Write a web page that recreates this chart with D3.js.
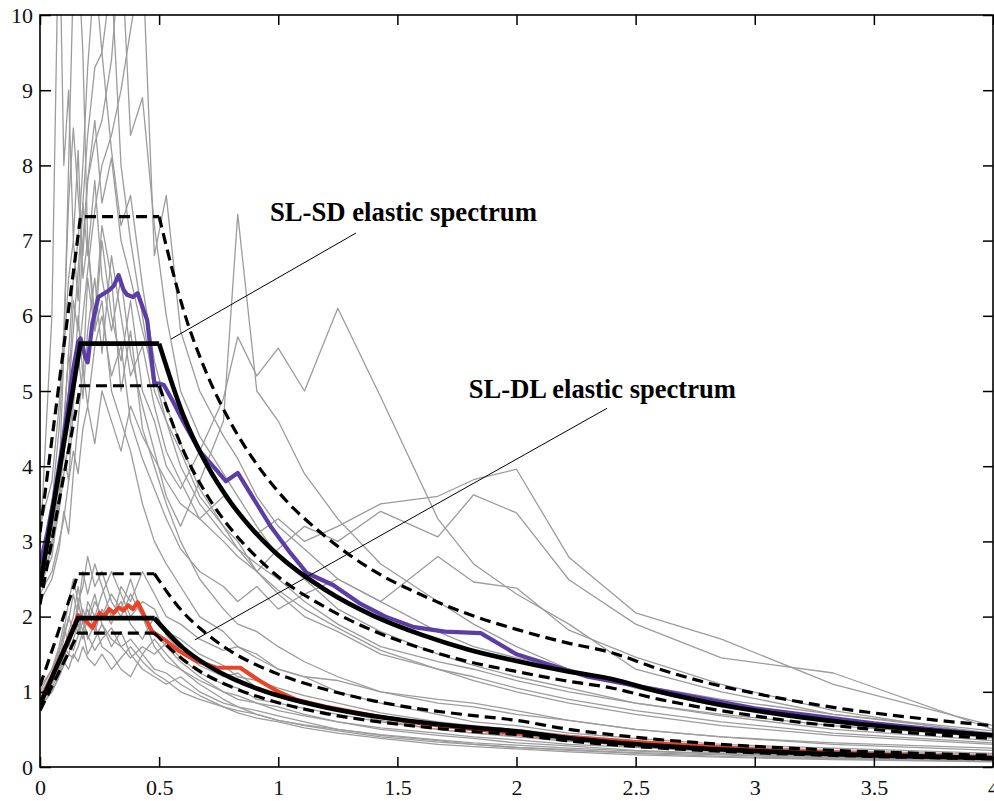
<!DOCTYPE html>
<html><head><meta charset="utf-8">
<script src="https://cdn.jsdelivr.net/npm/d3@7"></script>
<style>body{margin:0;background:#fff}</style>
</head><body><svg id="c" width="994" height="801"></svg>
<script>
// ---------- DATA ----------
const xTicks = [0,0.5,1,1.5,2,2.5,3,3.5,4];
const xTickLabels = ["0","0.5","1","1.5","2","2.5","3","3.5","4"];
const yTicks = [0,1,2,3,4,5,6,7,8,9,10];

// record periods (s)
const recPeriods = [0,0.05,0.08,0.1,0.12,0.14,0.16,0.18,0.2,0.23,0.26,0.3,0.34,0.38,0.43,0.48,0.53,0.59,0.67,0.77,0.83,0.91,1.0,1.11,1.25,1.43,1.67,1.82,2.0,2.22,2.5,2.86,3.33,4.0];

// SD-scaled records (grey)
const sdRecords = [
 [2.6,3.2,4.0,4.5,5.5,5.0,6.0,5.2,6.5,5.8,7.0,6.0,5.4,6.2,5.0,4.6,4.0,3.7,4.2,4.9,5.72,5.2,5.57,5.0,6.1,4.92,3.3,2.7,2.3,1.9,1.3,1.0,0.7,0.45],
 [2.5,3.5,4.5,5.5,6.5,7.0,6.2,7.5,6.8,7.8,6.5,5.8,6.5,5.5,4.8,4.2,3.6,3.2,3.8,4.6,7.35,5.0,4.6,3.9,3.3,2.7,2.2,1.9,1.6,1.3,1.05,0.8,0.6,0.38],
 [2.3,2.6,3.0,3.3,3.8,4.2,3.9,4.5,4.8,4.3,5.0,4.6,4.2,4.8,4.4,4.1,3.8,3.5,3.3,3.6,3.4,3.1,3.3,3.0,3.2,3.5,3.6,3.82,3.96,2.79,2.05,1.7,1.1,0.55],
 [2.4,2.8,3.5,4.2,3.8,4.8,5.5,4.9,5.8,6.5,5.5,6.8,6.0,5.2,5.6,4.8,4.2,3.8,3.3,3.0,2.8,2.6,2.9,3.2,3.0,3.4,3.06,3.62,3.38,2.49,1.9,1.45,1.25,0.5],
 [2.2,2.5,2.9,3.4,3.1,3.9,4.6,5.3,4.8,5.6,6.0,5.2,5.6,4.6,4.1,3.7,3.3,2.9,2.6,2.4,2.2,2.4,2.1,2.3,2.5,2.2,2.8,2.46,2.38,1.82,1.46,1.1,0.75,0.42],
 [2.9,6.0,11.5,8.0,9.0,7.0,8.2,6.5,7.0,5.8,6.2,5.0,4.6,4.2,3.5,3.0,2.7,2.4,2.0,1.8,1.6,1.5,1.3,1.2,1.0,0.85,0.7,0.6,0.55,0.45,0.38,0.3,0.25,0.18],
 [2.6,3.0,3.8,5.5,8.0,10.5,10.8,9.5,7.0,6.0,7.2,6.5,5.0,5.8,4.5,4.0,3.5,3.0,2.5,2.1,1.9,1.8,1.6,1.4,1.2,1.0,0.85,0.8,0.7,0.62,0.5,0.4,0.32,0.25],
 [2.7,3.3,4.0,4.6,5.5,6.5,7.0,8.0,9.3,10.6,9.5,10.5,8.0,7.0,6.0,5.0,4.6,4.2,3.6,3.2,3.0,2.6,2.3,2.0,1.8,1.5,1.3,1.2,1.05,0.9,0.75,0.6,0.45,0.32],
 [2.8,3.2,3.6,4.4,5.0,6.2,5.8,7.0,7.8,8.3,8.6,9.4,11.0,8.4,8.9,7.2,6.0,5.0,4.4,3.9,3.6,3.2,2.8,2.5,2.1,1.8,1.5,1.35,1.2,1.05,0.85,0.7,0.55,0.4],
 [2.5,2.9,3.4,3.9,4.3,4.9,5.4,6.0,6.6,7.4,8.0,8.4,9.0,9.8,10.8,6.8,7.6,5.8,5.0,4.4,4.1,3.6,3.2,2.9,2.5,2.2,1.8,1.6,1.45,1.3,1.1,0.9,0.7,0.48],
 [3.2,3.8,4.8,5.8,7.5,8.5,7.6,6.8,7.8,8.6,7.5,8.1,7.0,6.5,5.8,5.2,4.6,4.0,3.5,3.1,2.9,2.7,2.5,2.2,1.9,1.6,1.4,1.3,1.15,1.0,0.85,0.68,0.5,0.35],
 [2.4,2.9,3.6,4.3,5.0,5.8,6.6,7.5,8.4,9.3,9.5,8.2,7.2,7.6,6.4,5.4,4.8,4.3,3.7,3.2,2.9,2.6,2.35,2.1,1.85,1.55,1.3,1.15,1.0,0.85,0.7,0.55,0.42,0.3]
];

// DL-scaled records (grey)
const dlRecords = [
 [0.85,1.1,1.3,1.5,1.7,1.9,1.8,2.1,1.9,2.2,2.0,2.3,2.1,2.5,2.0,1.8,1.6,1.4,1.2,1.0,0.95,0.85,0.8,0.7,0.6,0.5,0.42,0.38,0.32,0.28,0.22,0.18,0.14,0.1],
 [0.9,1.2,1.5,1.4,1.8,2.0,2.4,2.0,1.7,1.9,1.6,1.5,1.3,1.2,1.5,1.7,1.5,1.3,1.1,0.9,0.8,0.75,0.68,0.6,0.5,0.42,0.35,0.3,0.26,0.22,0.18,0.14,0.11,0.08],
 [1.0,1.3,1.6,1.9,1.6,1.8,2.1,2.6,2.3,2.7,2.4,2.0,2.2,1.9,1.7,2.0,1.8,1.7,1.5,1.35,1.2,1.15,1.05,0.95,0.85,0.72,0.6,0.55,0.5,0.42,0.35,0.28,0.22,0.16],
 [0.8,1.0,1.2,1.35,1.5,1.45,1.6,1.8,1.5,1.7,1.9,1.6,1.8,1.5,1.3,1.2,1.1,1.2,1.0,0.85,0.8,0.7,0.62,0.55,0.48,0.4,0.33,0.3,0.26,0.23,0.19,0.16,0.12,0.09],
 [0.95,1.2,1.4,1.7,2.0,1.8,2.2,1.9,2.1,1.8,2.1,1.9,2.4,2.2,2.6,2.3,2.0,1.9,1.7,1.55,1.6,1.45,1.3,1.2,1.15,1.0,0.9,0.85,0.75,0.62,0.5,0.4,0.3,0.22],
 [0.9,1.15,1.4,1.6,1.5,1.7,1.9,1.7,2.0,2.3,1.9,1.7,1.6,1.7,1.5,1.3,1.25,1.1,0.95,0.8,0.72,0.65,0.6,0.52,0.45,0.38,0.3,0.27,0.24,0.2,0.16,0.13,0.1,0.07],
 [1.05,1.3,1.5,1.8,2.2,2.5,2.2,2.4,2.8,2.4,2.6,2.2,2.0,2.3,2.0,1.6,1.4,1.3,1.15,1.0,0.9,0.85,0.75,0.68,0.6,0.52,0.45,0.4,0.36,0.3,0.26,0.2,0.16,0.12],
 [0.85,1.05,1.25,1.45,1.65,1.55,1.75,1.95,1.75,1.55,1.7,1.85,1.6,1.45,1.6,1.5,1.65,1.45,1.25,1.1,1.05,0.9,0.85,0.78,0.7,0.6,0.5,0.45,0.42,0.35,0.3,0.24,0.18,0.13],
 [0.95,1.25,1.55,1.75,1.95,2.3,2.0,1.8,2.2,2.0,2.3,2.6,2.3,2.0,2.2,2.1,1.75,1.55,1.35,1.2,1.25,1.05,0.95,0.85,0.75,0.62,0.5,0.45,0.4,0.34,0.28,0.22,0.17,0.12],
 [0.8,1.0,1.2,1.4,1.3,1.5,1.4,1.6,1.45,1.35,1.5,1.3,1.45,1.6,1.4,1.25,1.15,1.0,0.9,0.8,0.75,0.7,0.62,0.56,0.5,0.43,0.36,0.32,0.29,0.25,0.21,0.17,0.13,0.1]
];

// mean spectrum of SD records (purple)
const sdMeanT = [0,0.03,0.06,0.1,0.14,0.16,0.17,0.19,0.2,0.22,0.245,0.27,0.29,0.31,0.33,0.35,0.365,0.39,0.41,0.45,0.48,0.5,0.52,0.56,0.6,0.67,0.74,0.78,0.83,0.9,0.97,1.05,1.12,1.23,1.34,1.45,1.57,1.7,1.85,2.0,2.15,2.3,2.5,2.75,3.0,3.25,3.5,3.75,4.0];
const sdMeanV = [2.7,3.1,3.6,4.4,5.3,5.65,5.7,5.45,5.38,5.9,6.25,6.3,6.34,6.4,6.54,6.35,6.28,6.25,6.3,5.94,5.1,5.1,5.08,4.85,4.6,4.2,3.95,3.8,3.91,3.55,3.19,2.85,2.58,2.42,2.18,2.0,1.86,1.8,1.78,1.5,1.35,1.2,1.08,0.93,0.78,0.68,0.58,0.5,0.42];

// mean spectrum of DL records (red)
const dlMeanT = [0,0.05,0.1,0.14,0.16,0.19,0.22,0.25,0.27,0.29,0.31,0.33,0.35,0.37,0.39,0.41,0.44,0.47,0.52,0.58,0.65,0.74,0.84,0.92,1.0,1.08,1.2,1.4,1.6,1.8,2.0,2.5,3.0,3.5,4.0];
const dlMeanV = [0.85,1.2,1.55,1.85,2.02,1.95,1.85,2.05,2.0,2.1,2.05,2.12,2.08,2.15,2.1,2.19,2.0,1.8,1.7,1.55,1.42,1.32,1.32,1.15,1.0,0.89,0.8,0.68,0.58,0.51,0.45,0.33,0.23,0.17,0.12];

// SL-SD elastic spectrum and tolerance bands (+30% / -10%)
const sdSpecT = [0,0.17,0.5,0.6,0.7,0.8,0.9,1.0,1.2,1.4,1.6,1.8,2.0,2.2,2.4,2.6,2.8,3.0,3.2,3.4,3.6,3.8,4.0];
const sdSpec  = [2.4,5.63,5.63,4.69,4.02,3.52,3.13,2.815,2.35,2.01,1.76,1.56,1.41,1.28,1.17,1.0,0.862,0.751,0.66,0.584,0.521,0.468,0.422];
const sdUpper = [3.12,7.32,7.32,6.10,5.23,4.58,4.07,3.66,3.06,2.61,2.29,2.03,1.83,1.66,1.52,1.30,1.12,0.98,0.86,0.76,0.68,0.61,0.55];
const sdLower = [2.16,5.07,5.07,4.22,3.62,3.17,2.82,2.53,2.12,1.81,1.58,1.40,1.27,1.15,1.05,0.90,0.78,0.68,0.59,0.53,0.47,0.42,0.38];

// SL-DL elastic spectrum and tolerance bands
const dlSpecT = [0,0.16,0.48,0.6,0.7,0.8,0.9,1.0,1.2,1.4,1.6,1.8,2.0,2.2,2.4,2.6,2.8,3.0,3.2,3.4,3.6,3.8,4.0];
const dlSpec  = [0.83,1.98,1.98,1.584,1.358,1.188,1.056,0.95,0.792,0.679,0.594,0.528,0.475,0.393,0.33,0.281,0.242,0.211,0.186,0.164,0.147,0.132,0.119];
const dlUpper = [1.08,2.57,2.57,2.06,1.77,1.54,1.37,1.235,1.03,0.88,0.77,0.69,0.62,0.51,0.43,0.365,0.315,0.274,0.242,0.213,0.191,0.172,0.155];
const dlLower = [0.75,1.78,1.78,1.43,1.22,1.07,0.95,0.855,0.71,0.61,0.535,0.475,0.43,0.354,0.297,0.253,0.218,0.19,0.167,0.148,0.132,0.119,0.107];

// annotations (data coordinates)
const annotations = [
  {text:"SL-SD elastic spectrum", tx:0.965, ty:7.26, from:[0.55,5.69], to:[1.326,7.10]},
  {text:"SL-DL elastic spectrum", tx:1.80, ty:4.91, from:[0.65,1.69], to:[2.38,4.77]}
];

// ---------- DRAW ----------
(function(){
const W = 994, H = 801;
const mL = 40, mR = 993, mT = 15, mB = 767;
const x = d3.scaleLinear().domain([0,4]).range([mL,mR]);
const y = d3.scaleLinear().domain([0,10]).range([mB,mT]);
const svg = d3.select("#c");
svg.append("rect").attr("width",W).attr("height",H).attr("fill","#fff");

svg.append("defs").append("clipPath").attr("id","clip")
  .append("rect").attr("x",mL).attr("y",mT).attr("width",mR-mL).attr("height",mB-mT);

const g = svg.append("g").attr("clip-path","url(#clip)");
const pairs = (ts, vs) => ts.map((t,i)=>[t,vs[i]]);
const line = d3.line().x(d=>x(d[0])).y(d=>y(d[1]));
const smooth = d3.line().x(d=>x(d[0])).y(d=>y(d[1])).curve(d3.curveMonotoneX);

[...sdRecords, ...dlRecords].forEach(r => {
  g.append("path").attr("d", line(pairs(recPeriods, r)))
    .attr("fill","none").attr("stroke","#9c9c9c").attr("stroke-width",1.3)
    .attr("stroke-linejoin","round");
});

g.append("path").attr("d", line(pairs(sdMeanT, sdMeanV)))
  .attr("fill","none").attr("stroke","#5a3ea6").attr("stroke-width",4.2).attr("stroke-linejoin","round");
g.append("path").attr("d", line(pairs(dlMeanT, dlMeanV)))
  .attr("fill","none").attr("stroke","#ea4428").attr("stroke-width",4.2).attr("stroke-linejoin","round");

function drawSpec(ts, vs, dashed){
  const pts = pairs(ts, vs);
  const s = dashed ? {w:3.2, dash:"11,6"} : {w:4.6, dash:null};
  [line(pts.slice(0,3)), smooth(pts.slice(2))].forEach(d => {
    const p = g.append("path").attr("d", d).attr("fill","none").attr("stroke","#000")
      .attr("stroke-width", s.w).attr("stroke-linejoin","miter");
    if (s.dash) p.attr("stroke-dasharray", s.dash);
  });
}
drawSpec(sdSpecT, sdUpper, true);
drawSpec(sdSpecT, sdLower, true);
drawSpec(dlSpecT, dlUpper, true);
drawSpec(dlSpecT, dlLower, true);
drawSpec(sdSpecT, sdSpec, false);
drawSpec(dlSpecT, dlSpec, false);

annotations.forEach(a => {
  svg.append("line").attr("x1", x(a.from[0])).attr("y1", y(a.from[1]))
    .attr("x2", x(a.to[0])).attr("y2", y(a.to[1]))
    .attr("stroke","#000").attr("stroke-width",1);
  svg.append("text").attr("x", x(a.tx)).attr("y", y(a.ty))
    .attr("font-family","'Liberation Serif','DejaVu Serif',serif")
    .attr("font-weight","bold").attr("font-size",28)
    .attr("textLength",267).attr("lengthAdjust","spacingAndGlyphs")
    .attr("fill","#000").text(a.text);
});

const font = "'Liberation Serif','DejaVu Serif',serif";
const xAxis = d3.axisBottom(x).tickValues(xTicks).tickFormat((d,i)=>xTickLabels[i])
  .tickSizeInner(-10).tickSizeOuter(0).tickPadding(12);
const yAxis = d3.axisLeft(y).tickValues(yTicks).tickFormat(d3.format("d"))
  .tickSizeInner(-11).tickSizeOuter(0).tickPadding(7);
const xTop = d3.axisTop(x).tickValues(xTicks).tickFormat("").tickSizeInner(-10).tickSizeOuter(0);
const yRight = d3.axisRight(y).tickValues(yTicks).tickFormat("").tickSizeInner(-10).tickSizeOuter(0);

function styleAxis(sel){
  sel.select(".domain").remove();
  sel.selectAll(".tick line").attr("stroke","#000").attr("stroke-width",1.5);
  sel.selectAll(".tick text").attr("font-family",font).attr("font-size",22).attr("fill","#111");
}
svg.append("g").attr("transform",`translate(0,${mB})`).call(xAxis).call(styleAxis);
svg.append("g").attr("transform",`translate(${mL},0)`).call(yAxis).call(styleAxis);
svg.append("g").attr("transform",`translate(0,${mT})`).call(xTop).call(styleAxis);
svg.append("g").attr("transform",`translate(${mR},0)`).call(yRight).call(styleAxis);

svg.append("rect").attr("x",mL).attr("y",mT).attr("width",mR-mL).attr("height",mB-mT)
  .attr("fill","none").attr("stroke","#000").attr("stroke-width",1.6);
})();
</script>
</body></html>
